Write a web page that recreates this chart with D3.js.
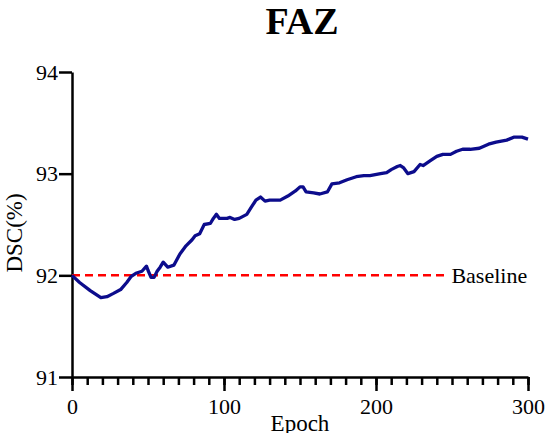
<!DOCTYPE html>
<html>
<head>
<meta charset="utf-8">
<script src="https://cdn.jsdelivr.net/npm/d3@7"></script>
<style>
  body { margin: 0; background: #fff; }
  svg { display: block; font-family: "Liberation Serif", "Times New Roman", serif; }
</style>
</head>
<body>
<svg id="chart" width="549" height="433"></svg>
<script>
// data
const epochs = [0, 5, 12, 15, 19, 23, 27, 32, 36, 39, 42, 46, 49, 50, 52, 54, 56, 58, 60, 63,
  67, 71, 75, 79, 81, 84, 87, 91, 93, 95, 97, 102, 104, 107, 110, 115, 118, 121, 124, 127,
  130, 137, 142, 147, 150, 152, 154, 159, 163, 168, 171, 176, 181, 187, 192, 196, 203, 207, 210, 214,
  216, 218, 221, 225, 229, 231, 236, 240, 244, 249, 253, 257, 262, 268, 274, 279, 286, 291, 296, 298, 300];
const dsc = [92.00, 91.93, 91.85, 91.82, 91.78, 91.79, 91.82, 91.86, 91.93, 91.99, 92.02, 92.04, 92.09, 92.05, 91.98, 91.98, 92.04, 92.08, 92.13, 92.08,
  92.10, 92.21, 92.29, 92.35, 92.39, 92.41, 92.50, 92.51, 92.56, 92.60, 92.56, 92.56, 92.57, 92.55, 92.56, 92.60, 92.67, 92.74, 92.77, 92.73,
  92.74, 92.74, 92.78, 92.83, 92.87, 92.87, 92.82, 92.81, 92.80, 92.82, 92.90, 92.91, 92.94, 92.97, 92.98, 92.98, 93.00, 93.01, 93.04, 93.07,
  93.08, 93.06, 93.00, 93.02, 93.09, 93.08, 93.13, 93.17, 93.19, 93.19, 93.22, 93.24, 93.24, 93.25, 93.29, 93.31, 93.33, 93.36, 93.36, 93.35, 93.34];
const baselineValue = 92;
const baselineEnd = 245;
const xTicks = [0, 100, 200, 300];
const xMinorTicks = d3.range(0, 301, 10);
const yTicks = [91, 92, 93, 94];

const svg = d3.select("#chart");
const plotLeft = 72, plotRight = 528, plotTop = 72, plotBottom = 377;

const x = d3.scaleLinear().domain([0, 300]).range([plotLeft, plotRight]);
const y = d3.scaleLinear().domain([91, 94]).range([plotBottom, plotTop]);

// title
svg.append("text")
  .attr("x", 302).attr("y", 34)
  .attr("text-anchor", "middle")
  .attr("font-size", 38).attr("font-weight", "bold")
  .text("FAZ");

// x axis minor ticks
svg.append("g")
  .attr("transform", `translate(0,${plotBottom})`)
  .call(d3.axisBottom(x).tickValues(xMinorTicks).tickSize(8).tickFormat(""))
  .call(g => g.select(".domain").remove())
  .selectAll("line").attr("stroke-width", 2.5);

// x axis major
const xg = svg.append("g")
  .attr("transform", `translate(0,${plotBottom})`)
  .call(d3.axisBottom(x).tickValues(xTicks).tickSize(14).tickSizeOuter(0));
xg.select(".domain").attr("stroke-width", 2.5);
xg.selectAll("line").attr("stroke-width", 2.5);
xg.selectAll("text")
  .attr("font-family", "Liberation Serif").attr("font-size", 22)
  .attr("y", 21).attr("dy", "0.71em").attr("fill", "#000");

// y axis
const yg = svg.append("g")
  .attr("transform", `translate(${plotLeft},0)`)
  .call(d3.axisLeft(y).tickValues(yTicks).tickSize(13).tickSizeOuter(0).tickFormat(d3.format("d")));
yg.select(".domain").attr("stroke-width", 2.5);
yg.selectAll("line").attr("stroke-width", 2.5);
yg.selectAll("text")
  .attr("font-family", "Liberation Serif").attr("font-size", 22)
  .attr("x", -14).attr("fill", "#000");

// axis titles
svg.append("text")
  .attr("x", 300).attr("y", 431)
  .attr("text-anchor", "middle").attr("font-size", 23)
  .text("Epoch");
svg.append("text")
  .attr("transform", "translate(22,233) rotate(-90)")
  .attr("text-anchor", "middle").attr("font-size", 23)
  .text("DSC(%)");

// baseline
svg.append("line")
  .attr("x1", x(0)).attr("x2", x(baselineEnd))
  .attr("y1", y(baselineValue)).attr("y2", y(baselineValue))
  .attr("stroke", "#ff0000").attr("stroke-width", 2.5)
  .attr("stroke-dasharray", "8,5");
svg.append("text")
  .attr("x", x(baselineEnd) + 7).attr("y", y(baselineValue))
  .attr("dy", "0.35em").attr("font-size", 22)
  .text("Baseline");

// DSC curve
const line = d3.line()
  .x((d, i) => x(epochs[i]))
  .y(d => y(d));
svg.append("path")
  .datum(dsc)
  .attr("fill", "none")
  .attr("stroke", "#0c0c8c")
  .attr("stroke-width", 3.3)
  .attr("stroke-linejoin", "round")
  .attr("d", line);
</script>
</body>
</html>
